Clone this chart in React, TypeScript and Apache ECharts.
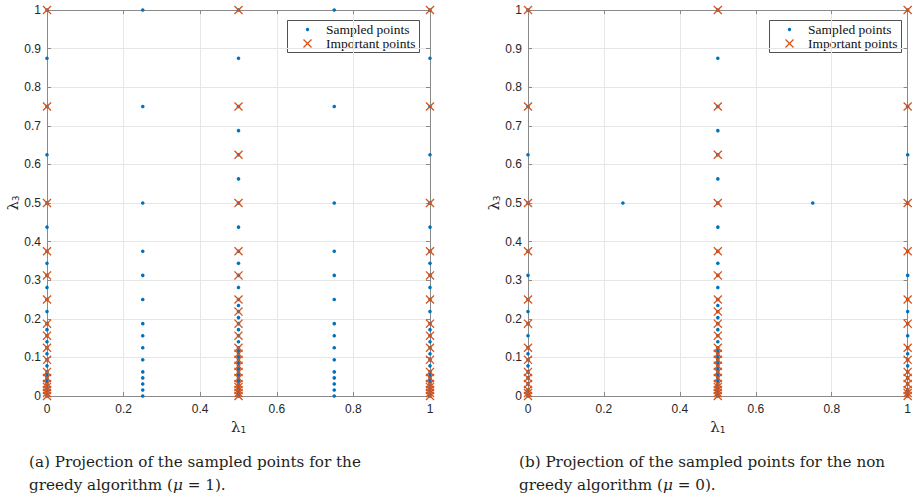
import React, { useEffect, useRef } from "react";
import * as echarts from "echarts";

// ---- data (lambda_3 values per lambda_1 column) ----
const greedyEdgeSampled = [1, 0.875, 0.75, 0.625, 0.5, 0.4375, 0.375, 0.34375, 0.3125, 0.28125, 0.25, 0.21875, 0.1875, 0.171875, 0.15625, 0.140625, 0.125, 0.109375, 0.09375, 0.078125, 0.0625, 0.0546875, 0.046875, 0.0390625, 0.03125, 0.0234375, 0.015625, 0.0078125, 0];
const greedyEdgeImportant = [1, 0.75, 0.5, 0.375, 0.3125, 0.25, 0.1875, 0.15625, 0.125, 0.09375, 0.0625, 0.046875, 0.03125, 0.0234375, 0.015625, 0.0078125, 0];
const greedyQuarterSampled = [1, 0.75, 0.5, 0.375, 0.3125, 0.25, 0.1875, 0.15625, 0.125, 0.09375, 0.0625, 0.046875, 0.03125, 0.015625, 0];
const middleSampled = [1, 0.875, 0.75, 0.6875, 0.625, 0.5625, 0.5, 0.4375, 0.375, 0.34375, 0.3125, 0.28125, 0.25, 0.234375, 0.21875, 0.203125, 0.1875, 0.171875, 0.15625, 0.140625, 0.125, 0.1171875, 0.109375, 0.1015625, 0.09375, 0.0859375, 0.078125, 0.0703125, 0.0625, 0.0546875, 0.046875, 0.0390625, 0.03125, 0.0234375, 0.015625, 0.0078125, 0.00390625, 0];
const middleImportant = [1, 0.75, 0.625, 0.5, 0.375, 0.3125, 0.25, 0.21875, 0.1875, 0.15625, 0.125, 0.109375, 0.09375, 0.078125, 0.0625, 0.046875, 0.03125, 0.0234375, 0.015625, 0.0078125, 0];
const nonGreedyEdgeSampled = [1, 0.75, 0.625, 0.5, 0.375, 0.3125, 0.25, 0.21875, 0.1875, 0.15625, 0.125, 0.109375, 0.09375, 0.078125, 0.0625, 0.046875, 0.03125, 0.015625, 0.0078125, 0];
const nonGreedyEdgeImportant = [1, 0.75, 0.5, 0.375, 0.25, 0.1875, 0.125, 0.09375, 0.0625, 0.046875, 0.03125, 0.015625, 0.0078125, 0];
const nonGreedyQuarterSampled = [0.5];

const legendNames = ["Sampled points", "Important points"];
const captionA = ["(a) Projection of the sampled points for the", "greedy algorithm (", "μ", " = 1)."];
const captionB = ["(b) Projection of the sampled points for the non", "greedy algorithm (", "μ", " = 0)."];

const BLUE = "#0072BD";
const ORANGE = "#D95319";
const AXIS = "#8a8a8a";
const CROSS = "path://M1,0 L5,4 L9,0 L10,1 L6,5 L10,9 L9,10 L5,6 L1,10 L0,9 L4,5 L0,1 Z";

const col = (x: number, ys: number[]) => ys.map((y) => [x, y]);
const build = (edge: number[], quarter: number[], middle: number[]) => [
  ...col(0, edge),
  ...col(0.25, quarter),
  ...col(0.5, middle),
  ...col(0.75, quarter),
  ...col(1, edge),
];

const greedySampled = build(greedyEdgeSampled, greedyQuarterSampled, middleSampled);
const greedyImportant = [...col(0, greedyEdgeImportant), ...col(0.5, middleImportant), ...col(1, greedyEdgeImportant)];
const nonGreedySampled = build(nonGreedyEdgeSampled, nonGreedyQuarterSampled, middleSampled);
const nonGreedyImportant = [...col(0, nonGreedyEdgeImportant), ...col(0.5, middleImportant), ...col(1, nonGreedyEdgeImportant)];

const GRID_LEFTS = [47, 528];
const GRID_TOP = 10;
const GRID_W = 383;
const GRID_H = 386;

function axisName(sub: string) {
  return {
    name: `{l|λ}{s|${sub}}`,
    nameTextStyle: {
      rich: {
        l: { fontFamily: "DejaVu Serif", fontSize: 15, color: "#262626", lineHeight: 18, verticalAlign: "bottom" },
        s: { fontFamily: "DejaVu Sans", fontSize: 9, color: "#262626", lineHeight: 12, verticalAlign: "bottom" },
      },
    },
  };
}

export default function App() {
  const ref = useRef<HTMLDivElement>(null);
  useEffect(() => {
    if (!ref.current) return;
    const chart = echarts.init(ref.current, undefined, { renderer: "svg" });
    const labelStyle = { fontFamily: "Liberation Sans", fontSize: 12, color: "#262626" };
    const xAxes: any[] = [];
    const yAxes: any[] = [];
    GRID_LEFTS.forEach((_, g) => {
      xAxes.push({
        type: "value", gridIndex: g, min: 0, max: 1, interval: 0.2, position: "bottom",
        axisLine: { show: true, lineStyle: { color: AXIS, width: 1 } },
        axisTick: { show: true, inside: true, length: 4, lineStyle: { color: AXIS } },
        axisLabel: { ...labelStyle, margin: 7, formatter: (v: number) => String(+v.toFixed(1)) },
        splitLine: { show: true, lineStyle: { color: "#e6e6e6", width: 1 } },
        nameLocation: "middle", nameGap: 19,
        ...axisName("1"),
      });
      xAxes.push({
        type: "value", gridIndex: g, min: 0, max: 1, interval: 0.2, position: "top",
        axisLine: { show: true, onZero: false, lineStyle: { color: AXIS, width: 1 } },
        axisTick: { show: true, inside: true, length: 4, lineStyle: { color: AXIS } },
        axisLabel: { show: false }, splitLine: { show: false },
      });
      yAxes.push({
        type: "value", gridIndex: g, min: 0, max: 1, interval: 0.1, position: "left",
        axisLine: { show: true, onZero: false, lineStyle: { color: AXIS, width: 1 } },
        axisTick: { show: true, inside: true, length: 4, lineStyle: { color: AXIS } },
        axisLabel: { ...labelStyle, margin: 6, formatter: (v: number) => String(+v.toFixed(1)) },
        splitLine: { show: true, lineStyle: { color: "#e6e6e6", width: 1 } },
        nameLocation: "middle", nameGap: 18, nameRotate: 90,
        ...axisName("3"),
      });
      yAxes.push({
        type: "value", gridIndex: g, min: 0, max: 1, interval: 0.1, position: "right",
        axisLine: { show: true, onZero: false, lineStyle: { color: AXIS, width: 1 } },
        axisTick: { show: true, inside: true, length: 4, lineStyle: { color: AXIS } },
        axisLabel: { show: false }, splitLine: { show: false },
      });
    });

    const sampledSeries = (data: number[][], g: number) => ({
      type: "scatter", name: legendNames[0], xAxisIndex: g * 2, yAxisIndex: g * 2,
      data, symbol: "circle", symbolSize: 3.6, clip: false, z: 2,
      itemStyle: { color: BLUE, opacity: 1 },
    });
    const importantSeries = (data: number[][], g: number) => ({
      type: "scatter", name: legendNames[1], xAxisIndex: g * 2, yAxisIndex: g * 2,
      data, symbol: CROSS, symbolSize: 9, clip: false, z: 3,
      itemStyle: { color: ORANGE, opacity: 1 },
    });

    const legendGraphic = (ox: number) => ({
      type: "group", z: 100,
      children: [
        { type: "rect", shape: { x: ox + 0.5, y: 20.5, width: 132, height: 32 }, style: { fill: "#fff", stroke: "#262626", lineWidth: 0.8 } },
        { type: "circle", shape: { cx: ox + 20.5, cy: 29.5, r: 1.7 }, style: { fill: BLUE } },
        { type: "line", shape: { x1: ox + 16.5, y1: 39.5, x2: ox + 24.5, y2: 47.5 }, style: { stroke: ORANGE, lineWidth: 1.3 } },
        { type: "line", shape: { x1: ox + 24.5, y1: 39.5, x2: ox + 16.5, y2: 47.5 }, style: { stroke: ORANGE, lineWidth: 1.3 } },
        { type: "text", x: ox + 39, y: 29.5, style: { text: legendNames[0], fontFamily: "Liberation Serif", fontSize: 13.5, fill: "#111", verticalAlign: "middle" } },
        { type: "text", x: ox + 39, y: 43.5, style: { text: legendNames[1], fontFamily: "Liberation Serif", fontSize: 13.5, fill: "#111", verticalAlign: "middle" } },
      ],
    });

    const FS = 15.2;
    const capRich = {
      n: { fontFamily: "DejaVu Serif", fontSize: FS, fill: "#231f20" },
      i: { fontFamily: "DejaVu Serif", fontSize: FS, fontStyle: "italic", fill: "#231f20" },
    };
    const caption = (x1: number, x2: number, parts: string[]) => [
      { type: "text", x: x1, y: 462, style: { text: parts[0], fontFamily: "DejaVu Serif", fontSize: FS, fill: "#231f20", verticalAlign: "middle" } },
      { type: "text", x: x2, y: 485, style: { text: `{n|${parts[1]}}{i|${parts[2]}}{n|${parts[3]}}`, rich: capRich, verticalAlign: "middle" } },
    ];

    chart.setOption({
      animation: false,
      backgroundColor: "#fff",
      grid: GRID_LEFTS.map((l) => ({ left: l, top: GRID_TOP, width: GRID_W, height: GRID_H, containLabel: false })),
      xAxis: xAxes,
      yAxis: yAxes,
      series: [
        sampledSeries(greedySampled, 0),
        importantSeries(greedyImportant, 0),
        sampledSeries(nonGreedySampled, 1),
        importantSeries(nonGreedyImportant, 1),
      ],
      graphic: [
        legendGraphic(287),
        legendGraphic(769),
        ...caption(29, 29, captionA),
        ...caption(519, 519, captionB),
      ],
    });
    return () => chart.dispose();
  }, []);
  return <div ref={ref} style={{ position: "fixed", left: 0, top: 0, width: 914, height: 497, background: "#fff" }} />;
}
